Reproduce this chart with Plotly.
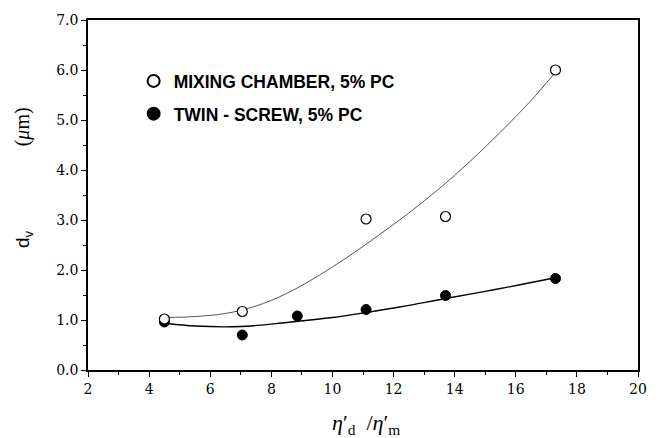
import plotly.graph_objects as go

# Measured points
mix_x = [4.5, 7.05, 11.1, 13.7, 17.3]
mix_y = [1.02, 1.17, 3.02, 3.07, 6.0]
twin_x = [4.5, 7.05, 8.85, 11.1, 13.7, 17.3]
twin_y = [0.96, 0.70, 1.08, 1.21, 1.49, 1.83]

# Fitted curves
mix_fit_x = [4.6, 5.5, 6.5, 7.5, 8.5, 9.5, 10.5, 11.5, 12.5, 13.5, 14.5, 15.5, 16.5, 17.25]
mix_fit_y = [1.05, 1.07, 1.13, 1.28, 1.53, 1.87, 2.26, 2.69, 3.14, 3.63, 4.17, 4.76, 5.39, 5.92]
twin_fit_x = [4.6, 5.5, 7.0, 8.5, 10.0, 11.1, 12.2, 13.7, 15.5, 17.25]
twin_fit_y = [0.93, 0.88, 0.87, 0.95, 1.05, 1.15, 1.26, 1.43, 1.63, 1.84]

labels = ["MIXING CHAMBER, 5% PC", "TWIN - SCREW, 5% PC"]

fig = go.Figure()
fig.add_trace(go.Scatter(x=mix_fit_x, y=mix_fit_y, mode="lines", line=dict(color="#555", width=1, shape="spline"),
                         showlegend=False, hoverinfo="skip"))
fig.add_trace(go.Scatter(x=twin_fit_x, y=twin_fit_y, mode="lines", line=dict(color="black", width=1.3, shape="spline"),
                         showlegend=False, hoverinfo="skip"))
fig.add_trace(go.Scatter(x=twin_x, y=twin_y, mode="markers", name=labels[1], legendgroup="b", legendrank=2,
                         marker=dict(symbol="circle", size=10, color="black", line=dict(color="black", width=1))))
fig.add_trace(go.Scatter(x=mix_x, y=mix_y, mode="markers", name=labels[0], legendgroup="a", legendrank=1,
                         marker=dict(symbol="circle", size=10, color="white", line=dict(color="black", width=1.2))))

tickfont = dict(family="DejaVu Serif", size=14, color="black")
fig.update_xaxes(range=[2, 20], tickvals=[2, 4, 6, 8, 10, 12, 14, 16, 18, 20],
                 ticks="outside", ticklen=5, tickwidth=1, tickcolor="black",
                 minor=dict(dtick=1, ticks="outside", ticklen=3, tickcolor="black"),
                 showline=True, linecolor="black", linewidth=1.5, mirror=True,
                 showgrid=False, zeroline=False, tickfont=tickfont)
fig.update_yaxes(range=[0, 7], tickvals=[0, 1, 2, 3, 4, 5, 6, 7],
                 ticktext=["0.0", "1.0", "2.0", "3.0", "4.0", "5.0", "6.0", "7.0"],
                 ticks="outside", ticklen=5, tickwidth=1, tickcolor="black",
                 minor=dict(dtick=0.5, ticks="outside", ticklen=3, tickcolor="black"),
                 showline=True, linecolor="black", linewidth=1.5, mirror=True,
                 showgrid=False, zeroline=False, tickfont=tickfont)

# y-axis title (rotated), positioned as in the reference
fig.add_annotation(text="d<sub>v</sub>" + "&nbsp;" * 16 +
                        "<span style='font-family:Liberation Serif;font-size:20px'>(<i>μ</i>m)</span>",
                   xref="paper", yref="paper", textangle=-90,
                   x=(23 - 88) / (638 - 88), y=(370 - 178) / (370 - 20),
                   showarrow=False, xanchor="center", yanchor="middle",
                   font=dict(family="Liberation Sans", size=19, color="black"))

fig.add_annotation(text="<i>η</i>′<sub>d</sub> &nbsp;/<i>η</i>′<sub>m</sub>", xref="paper", yref="paper",
                   x=(366 - 88) / (638 - 88), y=-(424 - 370) / (370 - 20),
                   showarrow=False, xanchor="center", yanchor="middle",
                   font=dict(family="Liberation Serif", size=22, color="black"))

fig.update_layout(
    width=660, height=438,
    margin=dict(l=88, r=22, t=20, b=68),
    plot_bgcolor="white", paper_bgcolor="white",
    legend=dict(x=0.083, y=0.877, xanchor="left", yanchor="top", traceorder="grouped", tracegroupgap=7,
                font=dict(family="Liberation Sans", size=17.5, color="black", weight="bold"),
                bgcolor="rgba(0,0,0,0)", itemsizing="constant"),
)
fig.write_html("out.html")
